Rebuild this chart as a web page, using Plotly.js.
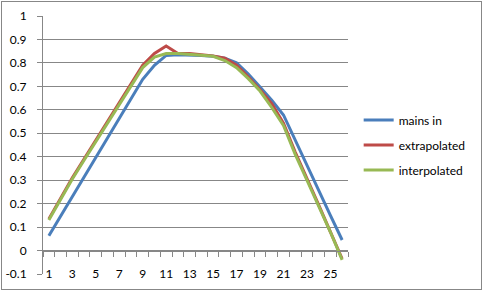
<!DOCTYPE html>
<html>
<head>
<meta charset="utf-8">
<script src="https://cdn.plot.ly/plotly-3.0.1.min.js"></script>
<style>
  html, body { margin: 0; padding: 0; background: #fff; }
  #wrap { position: relative; width: 483px; height: 291px; }
  #chart { width: 483px; height: 291px; }
  #frame { position: absolute; left: 1px; top: 1px; width: 479px; height: 287px;
           border: 1px solid #878787; pointer-events: none; }
</style>
</head>
<body>
<div id="wrap"><div id="chart"></div><div id="frame"></div></div>
<script>
const categories = [1,2,3,4,5,6,7,8,9,10,11,12,13,14,15,16,17,18,19,20,21,22,23,24,25,26];
const tickLabels = ["1","3","5","7","9","11","13","15","17","19","21","23","25"];
const tickPositions = [1,3,5,7,9,11,13,15,17,19,21,23,25];
const mainsIn = [0.063,0.146,0.229,0.312,0.395,0.478,0.561,0.644,0.73,0.79,0.832,0.835,0.835,0.832,0.828,0.82,0.80,0.753,0.697,0.641,0.578,0.47,0.36,0.255,0.15,0.045];
const extrapolated = [0.135,0.225,0.31,0.39,0.47,0.55,0.63,0.71,0.79,0.84,0.872,0.84,0.84,0.835,0.83,0.82,0.79,0.74,0.686,0.626,0.543,0.42,0.31,0.195,0.08,-0.035];
const interpolated = [0.13,0.22,0.305,0.385,0.465,0.545,0.625,0.705,0.78,0.825,0.84,0.84,0.838,0.833,0.828,0.81,0.78,0.733,0.68,0.61,0.533,0.41,0.30,0.19,0.079,-0.04];
const yTicks = [-0.1,0,0.1,0.2,0.3,0.4,0.5,0.6,0.7,0.8,0.9,1];
const yTickText = ["-0.1","0","0.1","0.2","0.3","0.4","0.5","0.6","0.7","0.8","0.9","1"];

const font = {family: "Lato, 'Liberation Sans', sans-serif", size: 12, color: "#000"};
const grid = "#878787";

const traces = [
  {x: categories, y: mainsIn, name: "mains in", mode: "lines", line: {color: "#4A7EBB", width: 3}, legendgroup: "a"},
  {x: categories, y: extrapolated, name: "extrapolated", mode: "lines", line: {color: "#BE4B48", width: 3}, legendgroup: "b"},
  {x: categories, y: interpolated, name: "interpolated", mode: "lines", line: {color: "#98B954", width: 3}, legendgroup: "c"}
];

const layout = {
  width: 483, height: 291,
  margin: {l: 43, r: 135, t: 16, b: 17, pad: 0},
  paper_bgcolor: "#fff", plot_bgcolor: "#fff",
  font: font,
  showlegend: true,
  legend: {x: 1.035, xanchor: "left", y: 0.5, yanchor: "middle", font: font,
           tracegroupgap: 6, bgcolor: "rgba(0,0,0,0)", itemwidth: 30},
  xaxis: {
    range: [0.5, 26.5], anchor: "free", position: 0.1/1.1,
    showgrid: false, zeroline: false,
    showline: true, linecolor: grid, linewidth: 1,
    tickmode: "array", tickvals: tickPositions, ticktext: tickLabels,
    ticks: "outside", ticklen: 5, tickcolor: "rgba(0,0,0,0)",
    ticklabelstandoff: 7,
    minor: {tick0: 0.5, dtick: 1, ticks: "outside", ticklen: 5, tickcolor: grid, tickwidth: 1, showgrid: false},
    tickfont: font
  },
  yaxis: {
    range: [-0.1, 1], showgrid: true, gridcolor: grid, gridwidth: 1,
    zeroline: false, showline: true, linecolor: grid, linewidth: 1,
    tickmode: "array", tickvals: yTicks, ticktext: yTickText,
    ticks: "outside", ticklen: 5, tickcolor: grid,
    ticklabelstandoff: 8, tickfont: font
  }
};

Plotly.newPlot("chart", traces, layout, {staticPlot: true, displayModeBar: false});
</script>
</body>
</html>
